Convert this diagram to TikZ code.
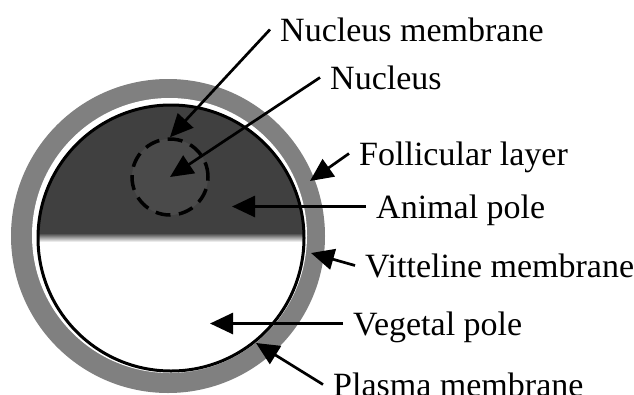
\documentclass[tikz,border=0pt]{standalone}
\usepackage{fontspec}
\setmainfont{Liberation Serif}
\usetikzlibrary{arrows.meta}

\definecolor{yolk}{gray}{0.25}
\definecolor{follicle}{gray}{0.5}
\definecolor{nucfill}{gray}{0.29}

\tikzset{
	lbl/.style={anchor=base west, inner xsep=10pt, inner ysep=0pt, text height=23pt, text depth=0pt, font=\fontsize{34}{40}\selectfont},
	ptr/.style={line width=2.7pt, -{Triangle[length=23pt,width=21pt]}}
}

\begin{document}
\begin{tikzpicture}[x=1pt,y=-1pt]
		\useasboundingbox (0,0) rectangle (634,394);

		% follicle ring and egg
		\fill[follicle] (168,236) circle (157);
		\fill[white] (169.5,235.5) circle (137.5);
		\begin{scope}
			\clip (171,238) circle (133);
			\fill[yolk] (30,90) rectangle (310,233);
			\shade[top color=yolk, bottom color=white] (30,233) rectangle (310,242);
		\end{scope}
		\draw[line width=3pt] (171,238) circle (133);

		\node[circle, minimum size=76pt, inner sep=0pt, fill=nucfill, draw, line width=3.5pt, dash pattern=on 15pt off 8.5pt] (nucl) at (170,177) {};

		% arrow ends
		\coordinate (foltip) at (310,181);
		\coordinate (anitip) at (232,207);
		\coordinate (vittip) at (311,253);
		\coordinate (vegtip) at (210,319);
		\coordinate (platip) at (256,343);

		\node[lbl] (nm) at (270,41) {Nucleus membrane};
		\node[lbl] (nuc) at (320,89) {Nucleus};
		\node[lbl] (fol) at (349,165) {Follicular layer};
		\node[lbl] (ani) at (366,218) {Animal pole};
		\node[lbl] (vit) at (355,277) {Vitteline membrane};
		\node[lbl] (veg) at (343,335) {Vegetal pole};
		\node[lbl] (pla) at (323,396) {Plasma membrane};

		\draw[ptr] (nm.west) -- (nucl.north);
		\draw[ptr] (nuc.west) -- (nucl.center);
		\draw[ptr] (fol.west) -- (foltip);
		\draw[ptr] (ani.west) -- (anitip |- ani.west);
		\draw[ptr] (vit.west) -- (vittip);
		\draw[ptr] (veg.west) -- (vegtip |- veg.west);
		\draw[ptr] (pla.west) -- (platip);

	\end{tikzpicture}
\end{document}
